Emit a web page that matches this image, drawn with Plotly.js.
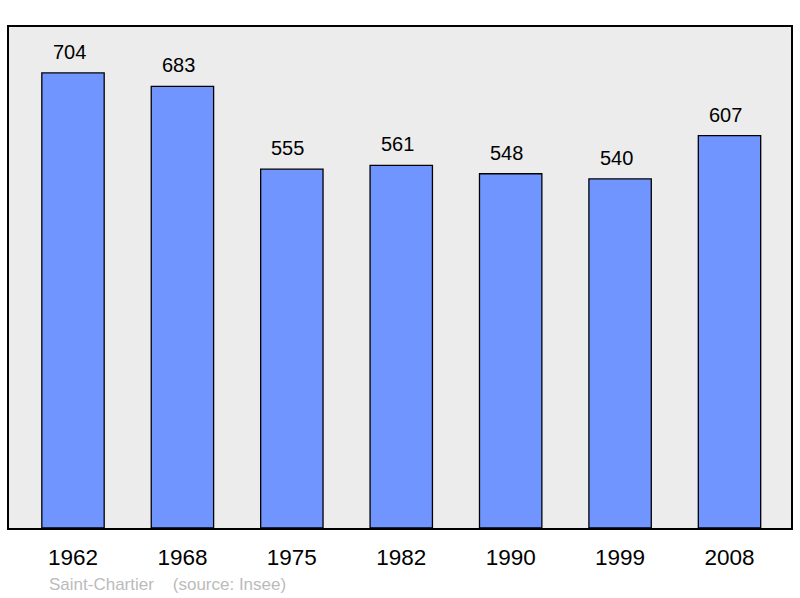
<!DOCTYPE html>
<html>
<head>
<meta charset="utf-8">
<script src="https://cdn.plot.ly/plotly-3.0.1.min.js"></script>
<style>html,body{margin:0;padding:0;background:#fff;}#chart{width:800px;height:598px;}</style>
</head>
<body>
<div id="chart"></div>
<script>
const years = ['1962','1968','1975','1982','1990','1999','2008'];
const population = [704, 683, 555, 561, 548, 540, 607];
const footerText = 'Saint-Chartier\u00a0\u00a0\u00a0\u00a0(source: Insee)';

const trace = {
  type: 'bar',
  x: years,
  y: population,
  width: 0.57,
  marker: {color: '#7095ff', line: {color: '#000', width: 1.3}},
  hoverinfo: 'none'
};

const annotations = years.map((yr, i) => ({
  x: i, y: population[i], xref: 'x', yref: 'y',
  text: String(population[i]), showarrow: false,
  yanchor: 'bottom', yshift: 8, xshift: -4,
  font: {family: 'Liberation Sans, Arial, sans-serif', size: 20, color: '#000'}
}));
annotations.push({
  xref: 'paper', yref: 'paper', x: 0.0486, y: -0.1118,
  xanchor: 'left', yanchor: 'middle', showarrow: false,
  text: footerText,
  font: {family: 'Liberation Sans, Arial, sans-serif', size: 17, color: '#bbbbbb'}
});

const layout = {
  width: 800, height: 598,
  margin: {l: 9, r: 9, t: 27, b: 70, pad: 0},
  paper_bgcolor: '#ffffff',
  plot_bgcolor: '#ececec',
  showlegend: false,
  xaxis: {
    type: 'category', range: [-0.585, 6.562],
    showline: true, mirror: true, linecolor: '#000', linewidth: 2,
    ticks: 'outside', ticklen: 8, tickcolor: 'rgba(0,0,0,0)',
    tickfont: {family: 'Liberation Sans, Arial, sans-serif', size: 22.5, color: '#000'},
    showgrid: false, zeroline: false, fixedrange: true
  },
  yaxis: {
    range: [0, 775],
    showline: true, mirror: true, linecolor: '#000', linewidth: 2,
    showticklabels: false, ticks: '', showgrid: false, zeroline: false, fixedrange: true
  },
  annotations: annotations
};

Plotly.newPlot('chart', [trace], layout, {displayModeBar: false, staticPlot: true});
</script>
</body>
</html>
